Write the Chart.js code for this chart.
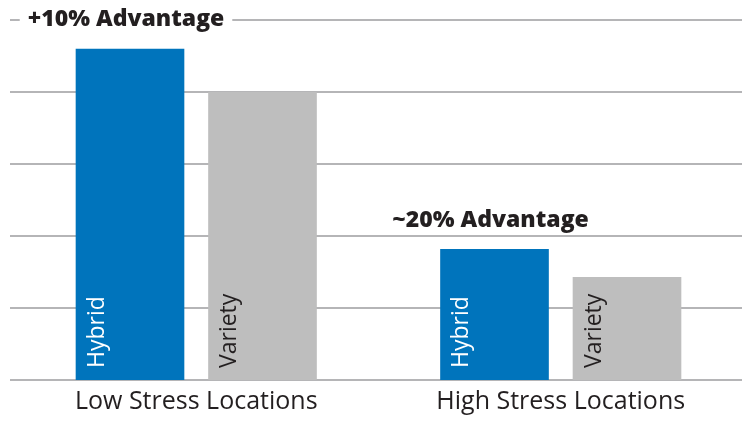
<!DOCTYPE html>
<html>
<head>
<meta charset="utf-8">
<script src="https://cdn.jsdelivr.net/npm/chart.js@4.4.1/dist/chart.umd.min.js"></script>
<style>
  html, body { margin: 0; padding: 0; background: #ffffff; }
  #wrap { width: 750px; height: 422px; position: relative; }
</style>
</head>
<body>
<div id="wrap"><canvas id="c" width="750" height="422"></canvas></div>
<script>
const categories = ["Low Stress Locations", "High Stress Locations"];
const seriesNames = ["Hybrid", "Variety"];
const hybridValues = [4.6, 1.82];
const varietyValues = [4.0, 1.43];
const advantageLabels = ["+10% Advantage", "~20% Advantage"];
const yTickValues = [0, 1, 2, 3, 4, 5];

const FONT = "'Open Sans'";
const TEXT_COLOR = "#231f20";
const GRID_COLOR = "#9d9d9f";

const gridPlugin = {
  id: "customGrid",
  beforeDatasetsDraw(chart) {
    const ctx = chart.ctx;
    const y = chart.scales.y;
    ctx.save();
    ctx.strokeStyle = GRID_COLOR;
    ctx.lineWidth = 1.6;
    yTickValues.forEach(v => {
      const py = Math.round(y.getPixelForValue(v));
      ctx.beginPath();
      ctx.moveTo(10, py);
      ctx.lineTo(742, py);
      ctx.stroke();
    });
    ctx.restore();
  }
};

const labelPlugin = {
  id: "barLabels",
  afterDatasetsDraw(chart) {
    const ctx = chart.ctx;
    ctx.save();
    chart.data.datasets.forEach((ds, di) => {
      const meta = chart.getDatasetMeta(di);
      meta.data.forEach(bar => {
        const left = bar.x - bar.width / 2;
        ctx.save();
        ctx.translate(left + 28, bar.base - 12);
        ctx.rotate(-Math.PI / 2);
        ctx.font = "400 23px " + FONT;
        ctx.fillStyle = di === 0 ? "#ffffff" : TEXT_COLOR;
        ctx.textAlign = "left";
        ctx.textBaseline = "alphabetic";
        ctx.fillText(ds.label, 0, 0);
        ctx.restore();
      });
    });
    const hMeta = chart.getDatasetMeta(0);
    hMeta.data.forEach((bar, i) => {
      const txt = advantageLabels[i];
      ctx.font = "800 23px " + FONT;
      const w = ctx.measureText(txt).width;
      const cx = bar.x - 4;
      const cy = bar.y - 29;
      ctx.fillStyle = "#ffffff";
      ctx.fillRect(cx - w / 2 - 8, cy - 14, w + 16, 28);
      ctx.fillStyle = TEXT_COLOR;
      ctx.textAlign = "center";
      ctx.textBaseline = "middle";
      ctx.fillText(txt, cx, cy);
    });
    ctx.restore();
  }
};

new Chart(document.getElementById("c"), {
  type: "bar",
  data: {
    labels: categories,
    datasets: [
      { label: seriesNames[0], data: hybridValues, backgroundColor: "#0074bc",
        categoryPercentage: 0.727, barPercentage: 0.82 },
      { label: seriesNames[1], data: varietyValues, backgroundColor: "#bebebe",
        categoryPercentage: 0.727, barPercentage: 0.82 }
    ]
  },
  options: {
    responsive: false,
    animation: false,
    layout: { padding: { left: 14, right: 7, top: 20, bottom: 0 } },
    plugins: { legend: { display: false }, tooltip: { enabled: false } },
    scales: {
      x: {
        grid: { display: false, drawTicks: false },
        border: { display: false },
        ticks: { color: TEXT_COLOR, padding: 7, font: { family: "Open Sans", size: 25 } },
        afterFit(scale) { scale.height = 42; }
      },
      y: {
        min: 0, max: 5,
        grid: { display: false, drawTicks: false },
        border: { display: false },
        ticks: { display: false, stepSize: 1 }
      }
    }
  },
  plugins: [gridPlugin, labelPlugin]
});
</script>
</body>
</html>
